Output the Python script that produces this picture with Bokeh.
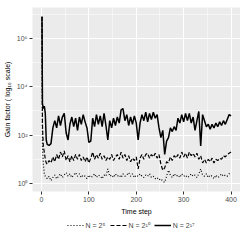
from bokeh.plotting import figure
from bokeh.models import FixedTicker, Legend, LegendItem, Range1d
from bokeh.layouts import column
from bokeh.embed import file_html
from bokeh.resources import INLINE

# time steps (dense at the very start, then every 4th step)
time_steps = [1, 2, 4, 6, 8, 10] + list(range(12, 401, 4))

# gain factor, expressed as log10(gain)
log10_gain_n5 = [6.9, 1.5, 0.8, 0.4, 0.3, 0.25,
    0.2, 0.3, 0.12, 0.25, 0.35, 0.2, 0.3, 0.4, 0.25, 0.35,
    0.45, 0.3, 0.4, 0.25, 0.35, 0.45, 0.3, 0.4, 0.25, 0.35,
    0.3, 0.2, 0.35, 0.25, 0.3, 0.4, 0.25, 0.35, 0.3, 0.2,
    0.35, 0.3, 0.6, 0.3, 0.35, 0.25, 0.4, 0.3, 0.35, 0.25,
    0.4, 0.3, 0.35, 0.45, 0.3, 0.4, 0.25, 0.35, 0.3, 0.4,
    0.3, 0.25, 0.35, 0.3, 0.4, 0.25, 0.3, 0.2, 0.25, 0.15,
    0.2, 0.1, 0.05, 0.3, 0.55, 0.35, 0.25, 0.4, 0.3, 0.35,
    0.25, 0.4, 0.3, 0.35, 0.25, 0.3, 0.4, 0.3, 0.35, 0.25,
    0.4, 0.6, 0.35, 0.3, 0.4, 0.25, 0.35, 0.3, 0.2, 0.35,
    0.25, 0.3, 0.4, 0.3, 0.35, 0.3, 0.4, 0.45]

log10_gain_n10 = [6.9, 2.4, 1.5, 1.3, 1.0, 0.85,
    0.8, 0.95, 0.85, 1.1, 0.9, 1.2, 1.0, 1.3, 1.1, 1.35,
    0.95, 1.15, 0.9, 1.15, 0.95, 1.2, 1.0, 1.2, 0.95, 1.1,
    0.9, 1.1, 0.85, 1.05, 1.3, 1.0, 1.2, 1.05, 1.25, 1.0,
    1.15, 0.95, 1.1, 1.0, 1.2, 0.95, 1.1, 1.2, 1.0, 1.3,
    1.05, 1.2, 0.95, 1.15, 0.9, 1.05, 0.95, 1.1, 0.6, 1.05,
    1.2, 1.0, 1.2, 1.25, 1.05, 1.2, 1.1, 1.25, 1.05, 1.2,
    0.8, 0.55, 0.65, 0.9, 0.85, 1.1, 0.95, 1.15, 1.05, 1.2,
    1.05, 1.3, 1.1, 1.25, 1.05, 1.3, 1.15, 1.25, 1.1, 1.25,
    1.0, 1.15, 0.85, 1.0, 0.85, 1.0, 0.9, 1.05, 0.85, 1.0,
    0.95, 1.05, 1.0, 1.15, 1.1, 1.2, 1.25, 1.3]

log10_gain_n17 = [6.9, 3.3, 3.1, 3.2, 2.9, 1.8,
    1.62, 1.58, 1.65, 2.3, 2.6, 2.3, 2.8, 2.4, 2.75, 2.9,
    2.1, 1.8, 2.45, 2.75, 2.35, 2.7, 2.2, 2.75, 2.45, 2.85,
    2.55, 2.3, 1.7, 1.75, 2.7, 2.35, 2.85, 2.45, 2.8, 2.35,
    2.9, 2.4, 1.8, 2.6, 2.3, 2.7, 2.4, 2.75, 2.5, 3.05,
    3.1, 2.6, 2.85, 2.4, 2.75, 2.45, 2.8, 2.5, 1.8, 2.5,
    2.85, 2.6, 2.95, 2.55, 2.9, 2.65, 2.95, 2.7, 2.85, 2.3,
    1.9, 2.2, 1.2, 1.75, 1.9, 2.3, 2.15, 2.35, 2.2, 2.7,
    2.5, 2.85, 2.55, 2.9, 2.6, 2.9, 2.5, 2.75, 2.2, 2.6,
    2.98, 1.55, 2.85, 2.6, 2.35, 2.45, 2.25, 2.45, 2.3, 2.5,
    2.35, 2.55, 2.4, 2.6, 2.45, 2.65, 2.85, 2.8]

series_labels = ["N = 2\u2075", "N = 2\u00b9\u2070", "N = 2\u00b9\u2077"]
series_dash = ["1 2", "4 2", "solid"]
series_width = [1.2, 1.2, 1.5]
x_ticks = [0, 100, 200, 300, 400]
x_minor = [50, 150, 250, 350]
y_ticks = [1, 100, 10000, 1000000]
y_minor = [10, 1000, 100000, 10000000]
y_tick_labels = ["10\u2070", "10\u00b2", "10\u2074", "10\u2076"]

gain_n5 = [10 ** v for v in log10_gain_n5]
gain_n10 = [10 ** v for v in log10_gain_n10]
gain_n17 = [10 ** v for v in log10_gain_n17]

FONT = "Liberation Sans"

p = figure(frame_width=208, frame_height=184, y_axis_type="log",
           x_range=Range1d(-19, 420), y_range=Range1d(10 ** -0.33, 10 ** 7.28),
           output_backend="svg", toolbar_location=None,
           min_border_left=21, min_border_right=0, min_border_top=7,
           min_border_bottom=0)

p.background_fill_color = "#EBEBEB"
p.border_fill_color = "white"
p.outline_line_color = None

p.xaxis.ticker = FixedTicker(ticks=x_ticks, minor_ticks=x_minor)
p.yaxis.ticker = FixedTicker(ticks=y_ticks, minor_ticks=y_minor)
p.yaxis.major_label_overrides = {t: l for t, l in zip(y_ticks, y_tick_labels)}

for g in (p.xgrid, p.ygrid):
    g.grid_line_color = "white"
    g.grid_line_width = 1
    g.minor_grid_line_color = "white"
    g.minor_grid_line_width = 0.5

for ax in (p.xaxis, p.yaxis):
    ax.axis_line_color = None
    ax.major_tick_line_color = "#333333"
    ax.major_tick_out = 3
    ax.major_tick_in = 0
    ax.minor_tick_out = 0
    ax.minor_tick_in = 0
    ax.major_label_text_font = FONT
    ax.major_label_text_font_size = "7px"
    ax.major_label_text_color = "#4D4D4D"
    ax.major_label_standoff = 2
    ax.axis_label_text_font = FONT
    ax.axis_label_text_font_size = "7px"
    ax.axis_label_text_font_style = "normal"
    ax.axis_label_text_color = "black"
    ax.axis_label_standoff = 3

p.xaxis.axis_label = "Time step"
p.yaxis.axis_label = "Gain factor ( log\u2081\u2080 scale)"

p.line(time_steps, gain_n5, line_color="black", line_width=series_width[0], line_dash=series_dash[0])
p.line(time_steps, gain_n10, line_color="black", line_width=series_width[1], line_dash=series_dash[1])
p.line(time_steps, gain_n17, line_color="black", line_width=series_width[2], line_dash=series_dash[2])

# separate strip below the plot for the legend (key renderers sit outside its ranges)
lg = figure(width=229, height=16, x_range=Range1d(0, 1), y_range=Range1d(0, 1),
            output_backend="svg", toolbar_location=None,
            min_border_left=21, min_border_right=0, min_border_top=0,
            min_border_bottom=0)
lg.axis.visible = False
lg.grid.visible = False
lg.outline_line_color = None
lg.background_fill_color = "white"

items = []
for lab, dash, w in zip(series_labels, series_dash, series_width):
    r = lg.line(x=[5, 6], y=[5, 6], line_color="black", line_width=w, line_dash=dash)
    items.append(LegendItem(label=lab, renderers=[r]))

legend = Legend(items=items, orientation="horizontal", location="center",
                label_text_font=FONT, label_text_font_size="7px",
                glyph_width=17, glyph_height=12, label_height=10,
                label_standoff=2, spacing=4, padding=0, margin=0,
                border_line_color=None, background_fill_alpha=0)
lg.add_layout(legend)

layout = column(p, lg, spacing=0)
open("out.html", "w").write(file_html(layout, INLINE))
